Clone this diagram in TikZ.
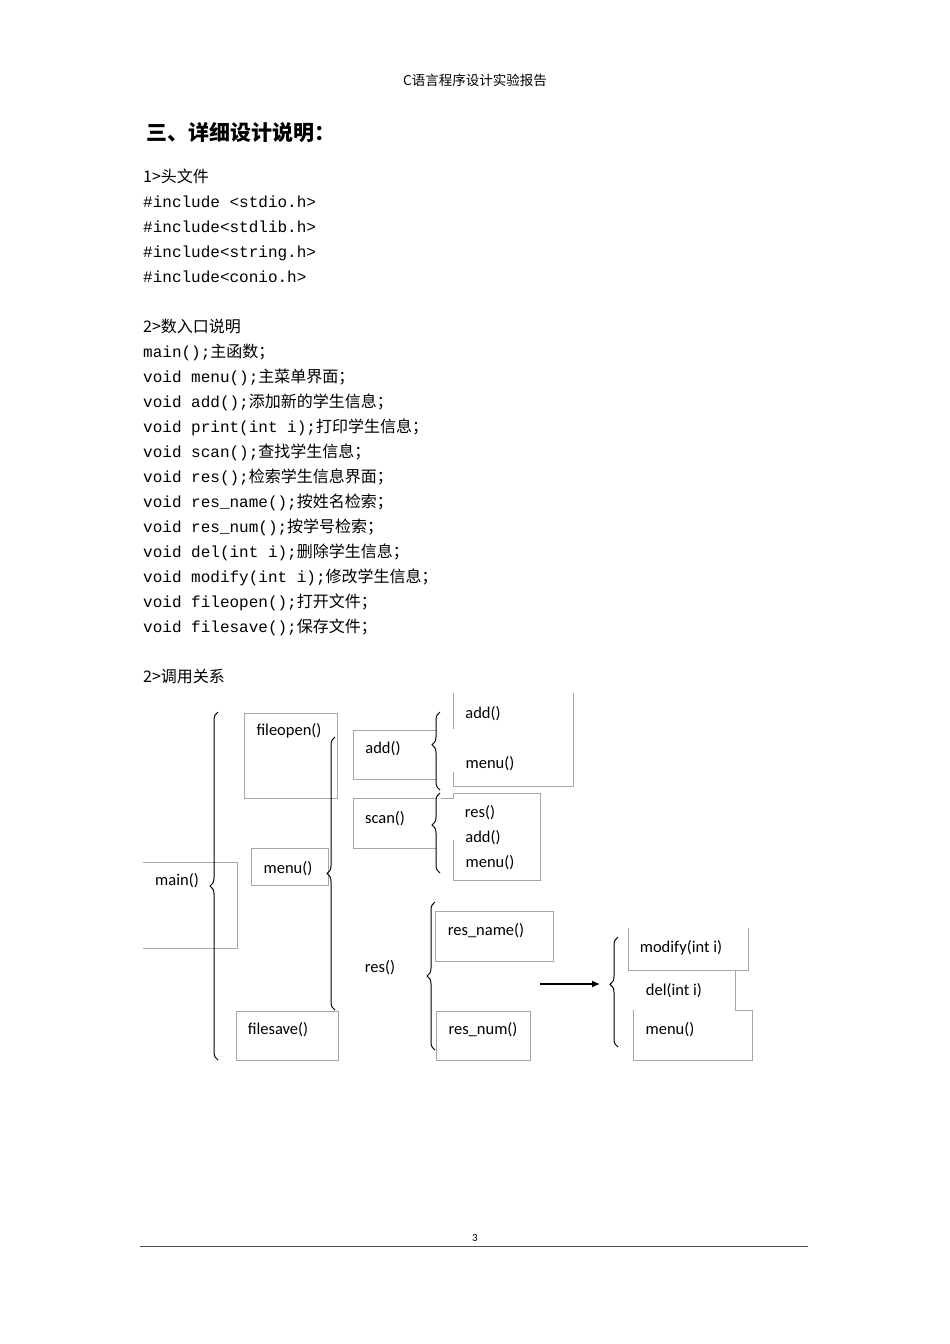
\documentclass[tikz,border=0pt]{standalone}
\usepackage{fontspec}
\setmainfont{Carlito}
\setmonofont{Liberation Mono}
\newfontfamily\cjk{Noto Sans CJK SC}
\usetikzlibrary{decorations.pathreplacing,arrows.meta}
\tikzset{
 bx/.style={draw=black!35,line width=0.6pt},
 lbl/.style={font=\fontsize{16.5}{18}\selectfont,inner sep=0},
 ln/.style={anchor=base west,inner sep=0,font=\fontsize{16}{18}\selectfont\ttfamily},
 brc/.style={decorate,decoration={brace,amplitude=8pt,aspect=#1},line width=1pt},
 brc/.default=0.5
}
\begin{document}
\begin{tikzpicture}[x=1pt,y=-1pt]
\useasboundingbox (0,0) rectangle (950,1344);
\node[font=\fontsize{13.5}{15}\selectfont\cjk] (hdr) at (475,80) {C语言程序设计实验报告};
\node[anchor=west,inner sep=0,font=\fontsize{21}{24}\selectfont\cjk\bfseries] (ttl) at (146,133) {三、详细设计说明：};
\def\ls{25}
\foreach \t [count=\i from 0] in {
 {\cjk 1>头文件},
 {\#include <stdio.h>},
 {\#include<stdlib.h>},
 {\#include<string.h>},
 {\#include<conio.h>},
 {},
 {\cjk 2>数入口说明},
 {main();{\cjk 主函数；}},
 {void menu();{\cjk 主菜单界面；}},
 {void add();{\cjk 添加新的学生信息；}},
 {void print(int  i);{\cjk 打印学生信息；}},
 {void scan();{\cjk 查找学生信息；}},
 {void res();{\cjk 检索学生信息界面；}},
 {void res\_name();{\cjk 按姓名检索；}},
 {void res\_num();{\cjk 按学号检索；}},
 {void del(int  i);{\cjk 删除学生信息；}},
 {void modify(int  i);{\cjk 修改学生信息；}},
 {void fileopen();{\cjk 打开文件；}},
 {void filesave();{\cjk 保存文件；}},
 {},
 {\cjk 2>调用关系}}
 {\node[ln] (l\i) at (143,182+\i*\ls) {\t};}
% boxes
\node[bx,minimum width=93,minimum height=85,inner sep=0] (bfo) at (290.5,755.5) {};
\draw[bx] (143,862) -- (237,862) -- (237,948) -- (143,948);
\node[bx,minimum width=77,minimum height=37,inner sep=0] (bme) at (289.5,866.5) {};
\node[bx,minimum width=102,minimum height=49,inner sep=0] (bfs) at (287,1035.5) {};
\draw[bx] (436,730) -- (353,730) -- (353,779) -- (436,779);
\draw[bx] (436,798) -- (353,798) -- (353,848) -- (436,848);
\draw[bx] (453,729) -- (453,693) (573,693) -- (573,786) -- (453,786) -- (453,772);
\draw[bx] (441,798) -- (453,798) -- (453,793) -- (540,793) -- (540,880) -- (453,880) -- (453,840);
\node[bx,minimum width=118,minimum height=50,inner sep=0] (brn) at (494,936) {};
\node[bx,minimum width=94,minimum height=49,inner sep=0] (bru) at (483,1035.5) {};
\draw[bx] (628,928) -- (628,970) -- (735,970) (748,928) -- (748,970) -- (735,970) -- (735,1010) -- (752,1010) -- (752,1060) -- (633,1060) -- (633,1010);
% labels
\node[lbl] (tfo) at (289,731) {fileopen()};
\node[lbl] (tma) at (177,881) {main()};
\node[lbl] (tme) at (288,869) {menu()};
\node[lbl] (tfs) at (278,1030) {filesave()};
\node[lbl] (tad) at (383,749) {add()};
\node[lbl] (tsc) at (385,819) {scan()};
\node[lbl] (tres) at (380,968) {res()};
\node[lbl] (ta1) at (483,714) {add()};
\node[lbl] (tm1) at (490,764) {menu()};
\node[lbl] (tr2) at (480,813) {res()};
\node[lbl] (ta2) at (483,838) {add()};
\node[lbl] (tm2) at (490,863) {menu()};
\node[lbl] (trn) at (486,931) {res\_name()};
\node[lbl] (tru) at (483,1030) {res\_num()};
\node[lbl] (tmo) at (681,948) {modify(int i)};
\node[lbl] (tde) at (674,991) {del(int i)};
\node[lbl] (tm3) at (670,1030) {menu()};
% braces
\draw[brc=0.5] (218,1060) -- (218,712);
\draw[brc=0.5] (335,1010) -- (335,737);
\draw[brc=0.58] (440,790) -- (440,712);
\draw[brc=0.6] (440,873) -- (440,793);
\draw[brc=0.5] (435,1050) -- (435,902);
\draw[brc=0.57] (618,1047) -- (618,937);
% arrow
\coordinate (as) at (540,984);
\coordinate (ae) at (600,984);
\draw[-{Latex[length=8pt,width=7pt]},line width=1.2pt] (as) -- (ae);
% footer
\node[font=\fontsize{11}{12}\selectfont] (pg) at (475,1238) {3};
\coordinate (fl) at (140,1246);
\coordinate (fr) at (808,1246);
\draw[line width=1pt,black!70] (fl) -- (fr);
\end{tikzpicture}
\end{document}
